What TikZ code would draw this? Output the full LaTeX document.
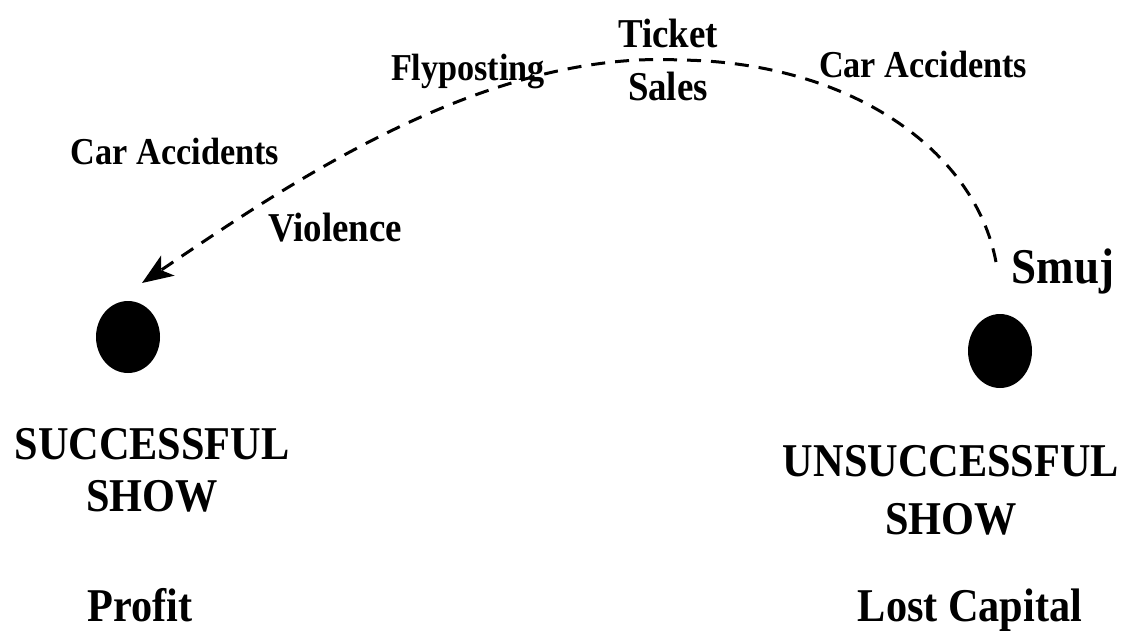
\documentclass[tikz,border=0pt]{standalone}
\usepackage{fontspec}
\setmainfont{Liberation Serif}[FakeStretch=0.9]
\usetikzlibrary{arrows.meta}

\begin{document}
\begin{tikzpicture}[x=1pt, y=-1pt,
    word/.style={font=\bfseries\fontsize{38}{40}\selectfont, inner sep=0pt, anchor=base},
    bigword/.style={font=\bfseries\fontsize{47}{52}\selectfont, inner sep=0pt, align=center, anchor=base}]
    \useasboundingbox (0,0) rectangle (1123,633);

    % Outcomes
    \fill[black] (128,337) ellipse [x radius=32, y radius=36];
    \node[inner sep=0pt] (succdot) at (128,337) {};
    \fill[black] (1000,351) ellipse [x radius=32, y radius=37];
    \node[inner sep=0pt] (unsuccdot) at (1000,351) {};

    \node[bigword] (succ) at (152,511) {SUCCESSFUL\\SHOW};
    \node[bigword, font=\bfseries\fontsize{47}{58}\selectfont] (unsucc) at (951,534) {UNSUCCESSFUL\\SHOW};
    \node[bigword] (profit) at (140,621) {Profit};
    \node[bigword] (lost) at (970,621) {Lost Capital};

    % Words along the path
    \node[word, font=\bfseries\fontsize{50}{52}\selectfont] (smuj) at (1063,283) {Smuj};
    \node[word] (caracc1) at (923,77) {Car Accidents};
    \node[word, font=\bfseries\fontsize{41}{44}\selectfont] (ticket) at (668,47) {Ticket};
    \node[word, font=\bfseries\fontsize{41}{44}\selectfont] (sales) at (668,100) {Sales};
    \node[word] (flypost) at (468,80) {Flyposting};
    \node[word] (caracc2) at (175,164) {Car Accidents};
    \node[word, font=\bfseries\fontsize{41}{44}\selectfont] (violence) at (335,241) {Violence};

    % Route from Smuj to the successful show
    \coordinate (smujend) at (996,262);
    \coordinate (top) at (680,60);
    \coordinate (arrowtip) at (142,283);
    \draw[line width=3pt, dash pattern=on 14pt off 10pt, -{Stealth[length=31pt, width=24pt, inset=8pt]}]
        (smujend) .. controls (975,150) and (850,62) .. (top)
        .. controls (480,50) and (280,190) .. (arrowtip);
\end{tikzpicture}
\end{document}
